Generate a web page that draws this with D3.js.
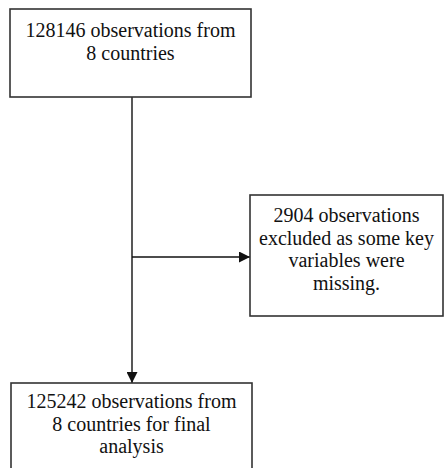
<!DOCTYPE html>
<html>
<head>
<meta charset="utf-8">
<script src="https://cdn.jsdelivr.net/npm/d3@7"></script>
</head>
<body style="margin:0;background:#fff">
<div id="flow"></div>
<script>
'use strict';
// box labels, one line per entry
const startLines = ["128146 observations from", "8 countries"];
const excludedLines = ["2904 observations", "excluded as some key", "variables were", "missing."];
const finalLines = ["125242 observations from", "8 countries for final", "analysis"];

const width = 444;
const height = 468;

// layout of the boxes (pixels)
const boxes = [
    {id: "start", x: 10, y: 9, w: 241, h: 88, lines: startLines, base: 37},
    {id: "excluded", x: 250, y: 195, w: 193, h: 121, lines: excludedLines, base: 222},
    {id: "final", x: 11, y: 383, w: 241, h: 100, lines: finalLines, base: 408}
];
const lineGap = 22.7;
const spineX = 132;
const branchY = 257;

const svg = d3.select("#flow").append("svg")
    .attr("width", width)
    .attr("height", height);

// arrow marker
svg.append("defs").append("marker")
    .attr("id", "arrow")
    .attr("viewBox", "0 0 10 10")
    .attr("refX", 10)
    .attr("refY", 5)
    .attr("markerWidth", 11)
    .attr("markerHeight", 11)
    .attr("markerUnits", "userSpaceOnUse")
    .attr("orient", "auto")
    .append("path")
    .attr("d", "M0,0L10,5L0,10Z")
    .attr("fill", "#111");

const byId = {};
boxes.forEach(function(b) { byId[b.id] = b; });

// vertical connector from start to final
svg.append("line")
    .attr("x1", spineX).attr("y1", byId.start.y + byId.start.h)
    .attr("x2", spineX).attr("y2", byId.final.y)
    .attr("stroke", "#111")
    .attr("stroke-width", 1.4)
    .attr("marker-end", "url(#arrow)");

// branch to excluded box
svg.append("line")
    .attr("x1", spineX).attr("y1", branchY)
    .attr("x2", byId.excluded.x).attr("y2", branchY)
    .attr("stroke", "#111")
    .attr("stroke-width", 1.4)
    .attr("marker-end", "url(#arrow)");

const g = svg.selectAll("g.box")
    .data(boxes)
    .enter().append("g")
    .attr("class", "box");

g.append("rect")
    .attr("x", function(d) { return d.x; })
    .attr("y", function(d) { return d.y; })
    .attr("width", function(d) { return d.w; })
    .attr("height", function(d) { return d.h; })
    .attr("fill", "#fff")
    .attr("stroke", "#333")
    .attr("stroke-width", 1.6);

// one text element per line
g.selectAll("text.line")
    .data(function(d) {
        return d.lines.map(function(line, i) {
            return {text: line, x: d.x + d.w / 2, y: d.base + i * lineGap};
        });
    })
    .enter().append("text")
    .attr("class", "line")
    .attr("x", function(d) { return d.x; })
    .attr("y", function(d) { return d.y; })
    .attr("text-anchor", "middle")
    .style("font-family", "'Liberation Serif'")
    .style("font-size", "20px")
    .style("fill", "#111")
    .text(function(d) { return d.text; });
</script>
</body>
</html>
